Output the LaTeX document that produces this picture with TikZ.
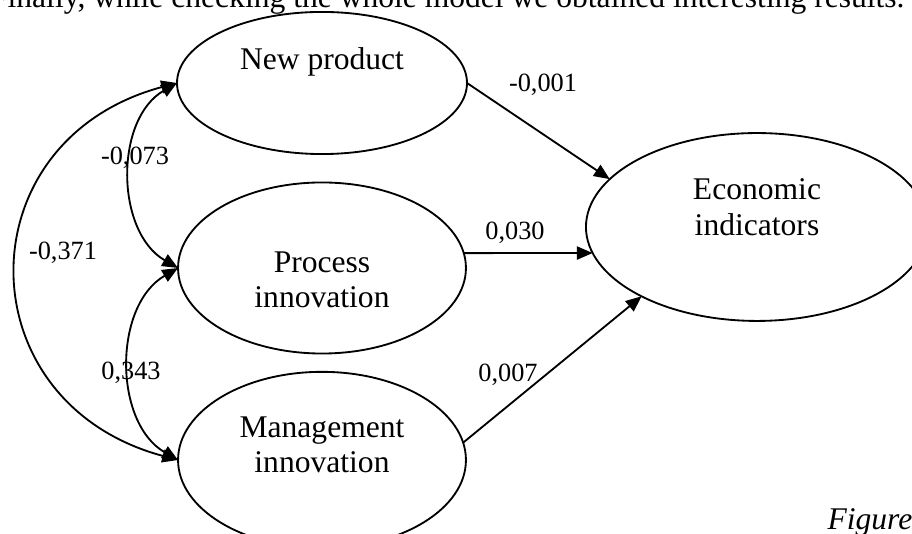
\documentclass[tikz,border=0pt]{standalone}
\usepackage{fontspec}
\setmainfont{Liberation Serif}
\usetikzlibrary{shapes.geometric,arrows.meta}

\tikzset{
    latent/.style={draw, ellipse, inner sep=0pt, outer sep=0pt, line width=0.7pt},
    effect/.style={line width=0.7pt, -{Triangle[length=6pt,width=5pt]}},
    covar/.style={line width=0.7pt, {Triangle[length=6pt,width=5pt]}-{Triangle[length=6pt,width=5pt]}},
    vname/.style={align=center, inner sep=0pt},
    coef/.style={inner sep=0pt, font=\fontsize{10}{12}\selectfont}
}

\begin{document}
\begin{tikzpicture}[x=0.38pt, y=-0.38pt, font=\fontsize{12}{13.5}\selectfont]
    \useasboundingbox (0,0) rectangle (912,534);
    \clip (0,0) rectangle (912,534);
    % running text of the page around the figure
    \node[anchor=base east, inner sep=0pt] (para) at (905,8) {Finally, while checking the whole model we obtained interesting results.};
    \node[anchor=base west, inner sep=0pt, font=\fontsize{12}{13.5}\selectfont\itshape] (cap) at (827,530) {Figure};
    % latent variables
    \node[latent, minimum width=110.2pt, minimum height=54pt] (np) at (322,83) {};
    \node[latent, minimum width=109.4pt, minimum height=65pt] (pi) at (322,268) {};
    \node[latent, minimum width=109.4pt, minimum height=67pt] (mi) at (322,460) {};
    \node[latent, minimum width=130pt, minimum height=71.4pt] (ei) at (757,227) {};
    \node[vname] (np-t) at (322,62) {New product};
    \node[vname] (pi-t) at (322,280) {Process\\innovation};
    \node[vname] (mi-t) at (322,445) {Management\\innovation};
    \node[vname] (ei-t) at (757,207) {Economic\\indicators};
    % paths to the outcome
    \draw[effect] (np.east) -- (ei.162);
    \draw[effect] (pi.6) -- (ei.189);
    \draw[effect] (mi.7) -- (ei.211);
    \node[coef] (c1) at (543,85) {-0,001};
    \node[coef] (c2) at (515,233) {0,030};
    \node[coef] (c3) at (508,375) {0,007};
    % correlations between the innovation types
    \draw[covar] (np.west) to[out=210, in=150] (pi.west);
    \draw[covar] (pi.west) to[out=210, in=150] (mi.west);
    \draw[covar] (np.west) to[out=195, in=165, looseness=1.5] (mi.west);
    \node[coef] (r1) at (135,158) {-0,073};
    \node[coef] (r2) at (131,373) {0,343};
    \node[coef] (r3) at (63,253) {-0,371};
\end{tikzpicture}
\end{document}
